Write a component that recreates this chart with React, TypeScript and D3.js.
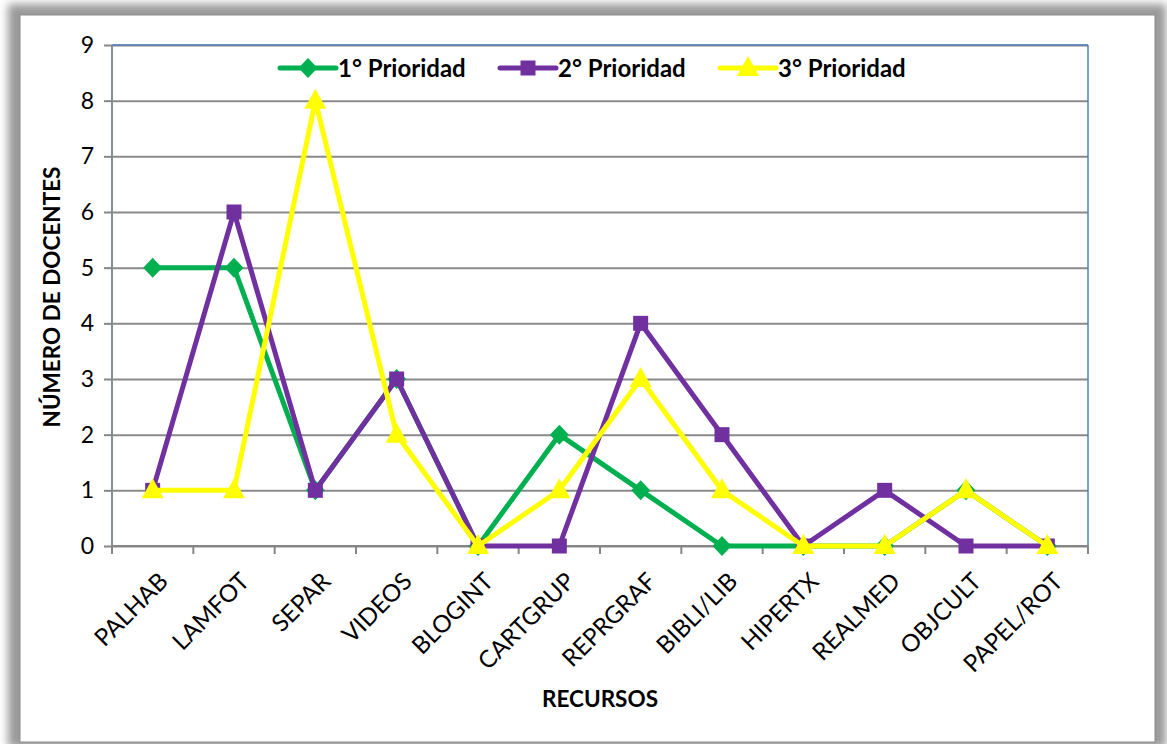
import { useEffect, useRef } from "react";
import * as d3 from "d3";

const categories = [
  "PALHAB",
  "LAMFOT",
  "SEPAR",
  "VIDEOS",
  "BLOGINT",
  "CARTGRUP",
  "REPRGRAF",
  "BIBLI/LIB",
  "HIPERTX",
  "REALMED",
  "OBJCULT",
  "PAPEL/ROT",
];

const prioridad1 = [5, 5, 1, 3, 0, 2, 1, 0, 0, 0, 1, 0];
const prioridad2 = [1, 6, 1, 3, 0, 0, 4, 2, 0, 1, 0, 0];
const prioridad3 = [1, 1, 8, 2, 0, 1, 3, 1, 0, 0, 1, 0];

const yTicks = [0, 1, 2, 3, 4, 5, 6, 7, 8, 9];

const seriesNames = ["1° Prioridad", "2° Prioridad", "3° Prioridad"];

const FONT = "Lato, 'Open Sans', sans-serif";

// marker shapes
const diamond = "M0,-10L9.5,0L0,10L-9.5,0Z";
const square = "M-7.5,-7.5H7.5V7.5H-7.5Z";
const triangle = "M0,-12L11,8H-11Z";

export default function App() {
  const ref = useRef<SVGSVGElement>(null);

  useEffect(() => {
    if (!ref.current) return;
    const svg = d3.select(ref.current);
    svg.selectAll("*").remove();

    const W = 1167;
    const H = 744;
    const m = { top: 45, right: 79, bottom: 198, left: 112 };
    const w = W - m.left - m.right;
    const h = H - m.top - m.bottom;

    // frame with shadow
    const defs = svg.append("defs");
    const f = defs
      .append("filter")
      .attr("id", "shadow")
      .attr("x", "-5%")
      .attr("y", "-5%")
      .attr("width", "110%")
      .attr("height", "110%");
    f.append("feGaussianBlur").attr("stdDeviation", 4);

    svg
      .append("rect")
      .attr("width", W)
      .attr("height", H)
      .attr("fill", "#ffffff");
    svg
      .append("rect")
      .attr("x", 8)
      .attr("y", 4)
      .attr("width", 1158)
      .attr("height", 744)
      .attr("fill", "#9a9a9a")
      .attr("filter", "url(#shadow)");
    svg
      .append("rect")
      .attr("x", 20)
      .attr("y", 15)
      .attr("width", 1135)
      .attr("height", 727)
      .attr("fill", "#ffffff")
      .attr("stroke", "#8c8c8c")
      .attr("stroke-width", 1);

    const x = d3
      .scaleBand<string>()
      .domain(categories)
      .range([0, w]);
    const y = d3.scaleLinear().domain([0, 9]).range([h, 0]);

    const g = svg
      .append("g")
      .attr("transform", `translate(${m.left},${m.top})`);

    // grid
    g.append("g")
      .call(
        d3
          .axisLeft(y)
          .tickValues(yTicks)
          .tickSize(-w)
          .tickFormat(() => ""),
      )
      .call((a) => {
        a.select(".domain").remove();
        a.selectAll("line").attr("stroke", "#8a8a8a").attr("stroke-width", 2);
      });

    // plot border top/right
    g.append("line")
      .attr("x1", 0)
      .attr("x2", w)
      .attr("y1", 0)
      .attr("y2", 0)
      .attr("stroke", "#4f81bd")
      .attr("stroke-width", 1.5);
    g.append("line")
      .attr("x1", w)
      .attr("x2", w)
      .attr("y1", 0)
      .attr("y2", h)
      .attr("stroke", "#4f81bd")
      .attr("stroke-width", 1.5);

    // y axis
    g.append("g")
      .call(d3.axisLeft(y).tickValues(yTicks).tickSize(8).tickPadding(10))
      .call((a) => {
        a.select(".domain")
          .attr("stroke", "#868e9a")
          .attr("stroke-width", 2)
          .attr("d", `M0,0V${h}`);
        a.selectAll("line").attr("stroke", "#868686").attr("stroke-width", 2);
        a.selectAll("text")
          .attr("font-family", FONT)
          .attr("font-size", 23)
          .attr("fill", "#000");
      });

    // x axis
    const xa = g.append("g").attr("transform", `translate(0,${h})`);
    xa.append("line")
      .attr("x1", 0)
      .attr("x2", w)
      .attr("stroke", "#868686")
      .attr("stroke-width", 2);
    xa.selectAll("line.tick")
      .data(d3.range(categories.length + 1))
      .join("line")
      .attr("class", "tick")
      .attr("x1", (i) => i * x.bandwidth())
      .attr("x2", (i) => i * x.bandwidth())
      .attr("y1", 0)
      .attr("y2", 8)
      .attr("stroke", "#868686")
      .attr("stroke-width", 2);
    xa.selectAll("text")
      .data(categories)
      .join("text")
      .attr(
        "transform",
        (d) => `translate(${(x(d) ?? 0) + x.bandwidth() / 2 + 5},${25}) rotate(-45)`,
      )
      .attr("text-anchor", "end")
      .attr("dy", "0.7em")
      .attr("font-family", FONT)
      .attr("font-size", 24)
      .attr("fill", "#000")
      .text((d) => d);

    // axis titles
    g.append("text")
      .attr("transform", "rotate(-90)")
      .attr("x", -(297 - m.top))
      .attr("y", -52)
      .attr("text-anchor", "middle")
      .attr("font-family", FONT)
      .attr("font-weight", "bold")
      .attr("font-size", 22.5)
      .attr("fill", "#000")
      .text("NÚMERO DE DOCENTES");

    g.append("text")
      .attr("x", 600 - m.left)
      .attr("y", 707 - m.top)
      .attr("text-anchor", "middle")
      .attr("font-family", FONT)
      .attr("font-weight", "bold")
      .attr("font-size", 22.5)
      .attr("fill", "#000")
      .text("RECURSOS");

    const cx = (i: number) => (x(categories[i]) ?? 0) + x.bandwidth() / 2;

    const series = [
      { values: prioridad1, color: "#00b050", marker: diamond },
      { values: prioridad2, color: "#7030a0", marker: square },
      { values: prioridad3, color: "#ffff00", marker: triangle },
    ];

    const line = d3
      .line<number>()
      .x((_, i) => cx(i))
      .y((d) => y(d));

    series.forEach((s) => {
      g.append("path")
        .datum(s.values)
        .attr("d", line)
        .attr("fill", "none")
        .attr("stroke", s.color)
        .attr("stroke-width", 5)
        .attr("stroke-linejoin", "round");
      g.selectAll(null)
        .data(s.values)
        .join("path")
        .attr("transform", (d, i) => `translate(${cx(i)},${y(d)})`)
        .attr("d", s.marker)
        .attr("fill", s.color);
    });

    // legend
    const legX = [280, 500, 720];
    const leg = svg.append("g").attr("transform", `translate(0,68)`);
    series.forEach((s, i) => {
      leg
        .append("line")
        .attr("x1", legX[i])
        .attr("x2", legX[i] + 56)
        .attr("stroke", s.color)
        .attr("stroke-width", 5)
        .attr("stroke-linecap", "round");
      leg
        .append("path")
        .attr("transform", `translate(${legX[i] + 28},0)`)
        .attr("d", s.marker)
        .attr("fill", s.color);
      leg
        .append("text")
        .attr("x", legX[i] + 58)
        .attr("y", 0)
        .attr("dy", "0.36em")
        .attr("font-family", FONT)
        .attr("font-weight", "bold")
        .attr("font-size", 24)
        .attr("fill", "#000")
        .text(seriesNames[i]);
    });
  }, []);

  return (
    <div style={{ position: "absolute", left: 0, top: 0 }}>
      <svg ref={ref} width={1167} height={744} style={{ display: "block" }} />
    </div>
  );
}
